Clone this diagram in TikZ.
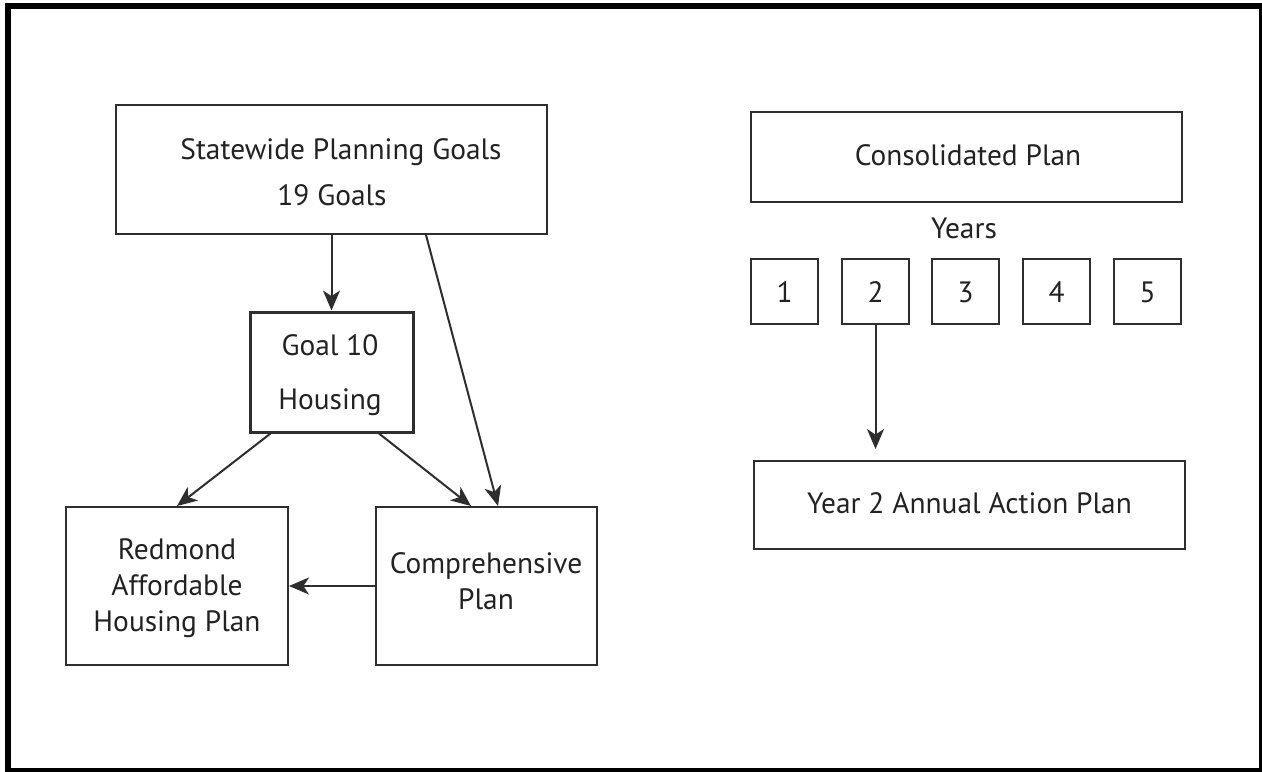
\documentclass[tikz,border=0pt]{standalone}
\usepackage{fontspec}
\setmainfont{PT Sans}
\usetikzlibrary{arrows.meta}
\definecolor{ln}{HTML}{2E2E2E}
\definecolor{tx}{HTML}{222222}
\tikzset{
  mybox/.style={draw=ln, line width=1pt, inner sep=0pt},
  txt/.style={text=tx, font=\fontsize{14.7pt}{17pt}\selectfont, inner sep=0pt, anchor=base},
  arr/.style={draw=ln, line width=1pt, -{Stealth[length=10pt,width=8.5pt,inset=2.8pt]}},
}
% #1 options, #2 name, #3 left, #4 top, #5 right, #6 bottom (px)
\newcommand\pbox[6][]{%
  \node[mybox,#1,minimum width={(#5-#3)*0.5pt},minimum height={(#6-#4)*0.5pt}]
    (#2) at ({(#3+#5)/2},{(#4+#6)/2}) {};}
\begin{document}
\begin{tikzpicture}[x=0.5pt,y=-0.5pt]
\fill[white] (0,0) rectangle (1262,771);
\useasboundingbox (0,0) rectangle (1262,771);
\draw[line width=3pt] (8,6) rectangle (1262,771);

% left diagram
\pbox{sw}{116}{105}{547}{234}
\pbox[line width=1.5pt]{gh}{250}{312}{413}{432}
\pbox{rd}{66}{507}{288}{665}
\pbox{cp}{376}{507}{597}{665}

\node[txt] (swa) at (341,159) {Statewide Planning Goals};
\node[txt] (swb) at (332,205) {19 Goals};
\node[txt] (gha) at (330,355) {Goal 10};
\node[txt] (ghb) at (330,409) {Housing};
\node[txt] (rda) at (177,559) {Redmond};
\node[txt] (rdb) at (177,595) {Affordable};
\node[txt] (rdc) at (177,631) {Housing Plan};
\node[txt] (cpa) at (486,573) {Comprehensive};
\node[txt] (cpb) at (486,609) {Plan};

\draw[arr] (sw.south) -- (gh.north);
\draw[arr] ([xshift=-61pt]sw.south east) -- ([xshift=5.75pt]cp.north);
\draw[arr] ([xshift=11pt]gh.south west) -- (rd.north);
\draw[arr] ([xshift=-17.75pt]gh.south east) -- ([xshift=-7.75pt]cp.north);
\draw[arr] (cp.west) -- (rd.east);

% right diagram
\pbox{cons}{751}{112}{1182}{202}
\node[txt] (consa) at (968,165) {Consolidated Plan};
\node[txt] (yrs) at (964,238) {Years};
\pbox{b1}{751}{259}{818}{324}
\pbox{b2}{842}{259}{909}{324}
\pbox{b3}{932}{259}{999}{324}
\pbox{b4}{1023}{259}{1090}{324}
\pbox{b5}{1114}{259}{1181}{324}
\node[txt] (n1) at (784.5,302) {1};
\node[txt] (n2) at (875.5,302) {2};
\node[txt] (n3) at (965.5,302) {3};
\node[txt] (n4) at (1056.5,302) {4};
\node[txt] (n5) at (1147.5,302) {5};
\pbox{ya}{754}{461}{1185}{549}
\node[txt] (yaa) at (969.5,513) {Year 2 Annual Action Plan};

\draw[arr, shorten >=5.5pt] (b2.south) -- (b2.south |- ya.north);
\end{tikzpicture}
\end{document}
